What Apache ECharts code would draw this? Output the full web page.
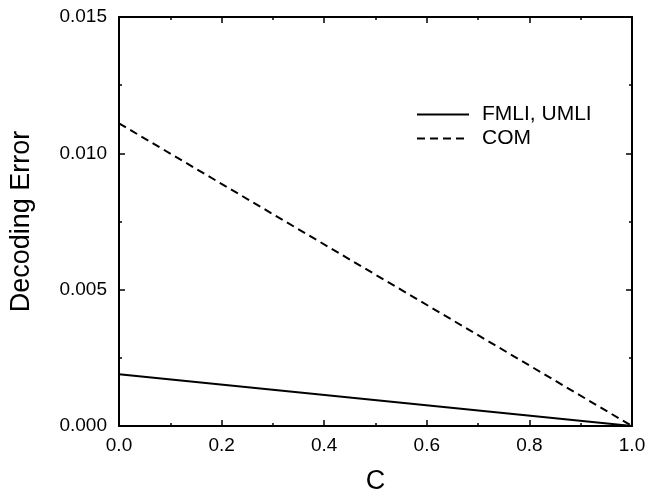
<!DOCTYPE html>
<html>
<head>
<meta charset="utf-8">
<script src="https://cdn.jsdelivr.net/npm/echarts@6/dist/echarts.min.js"></script>
<style>
  html, body { margin: 0; padding: 0; background: #fff; }
  #chart { width: 649px; height: 500px; }
</style>
</head>
<body>
<div id="chart"></div>
<script>
// Decoding error as a function of C for the two decoders
const cValues = [0.0, 1.0];
const fmliUmli = [0.0019, 0.0];
const com = [0.0111, 0.0];
const seriesNames = ['FMLI, UMLI', 'COM'];
const xTitle = 'C';
const yTitle = 'Decoding Error';

const FONT = 'Liberation Sans, Arial, Helvetica, sans-serif';
const pairs = (xs, ys) => xs.map((x, i) => [x, ys[i]]);

const chart = echarts.init(document.getElementById('chart'), null, { renderer: 'canvas' });

const tickCommon = {
  axisLine: { show: true, onZero: false, lineStyle: { color: '#000', width: 2 } },
  axisTick: { show: true, inside: true, length: 6, lineStyle: { color: '#000', width: 1.5 } },
  minorTick: { show: true, splitNumber: 2, length: 3, lineStyle: { color: '#000', width: 1.5 } },
  splitLine: { show: false },
  minorSplitLine: { show: false }
};

chart.setOption({
  animation: false,
  backgroundColor: '#fff',
  grid: { left: 112, right: 17, top: 17, bottom: 54, containLabel: false },
  legend: {
    orient: 'vertical',
    left: 411,
    top: 99,
    itemWidth: 52,
    itemHeight: 14,
    itemGap: 3,
    itemStyle: { opacity: 0 },
    textStyle: { fontFamily: FONT, fontSize: 21, color: '#000', padding: [0, 0, 0, 8] },
    data: seriesNames
  },
  xAxis: [
    Object.assign({
      type: 'value', position: 'bottom', min: 0, max: 1, interval: 0.2,
      name: xTitle, nameLocation: 'middle', nameGap: 42,
      nameTextStyle: { fontFamily: FONT, fontSize: 27, color: '#000' },
      axisLabel: { fontFamily: FONT, fontSize: 19, color: '#000', margin: 10,
        formatter: v => v.toFixed(1) }
    }, tickCommon),
    Object.assign({
      type: 'value', position: 'top', min: 0, max: 1, interval: 0.2,
      axisLabel: { show: false }
    }, tickCommon)
  ],
  yAxis: [
    Object.assign({
      type: 'value', position: 'left', min: 0, max: 0.015, interval: 0.005,
      name: yTitle, nameLocation: 'middle', nameGap: 84, nameRotate: 90,
      nameTextStyle: { fontFamily: FONT, fontSize: 27, color: '#000' },
      axisLabel: { fontFamily: FONT, fontSize: 19, color: '#000', margin: 12,
        formatter: v => v.toFixed(3) }
    }, tickCommon),
    Object.assign({
      type: 'value', position: 'right', min: 0, max: 0.015, interval: 0.005,
      axisLabel: { show: false }
    }, tickCommon)
  ],
  series: [
    {
      name: seriesNames[0], type: 'line', symbol: 'none',
      data: pairs(cValues, fmliUmli),
      lineStyle: { color: '#000', width: 2, type: 'solid' },
      itemStyle: { color: '#000' }
    },
    {
      name: seriesNames[1], type: 'line', symbol: 'none',
      data: pairs(cValues, com),
      lineStyle: { color: '#000', width: 2, type: [8, 5] },
      itemStyle: { color: '#000' }
    }
  ]
});
</script>
</body>
</html>
